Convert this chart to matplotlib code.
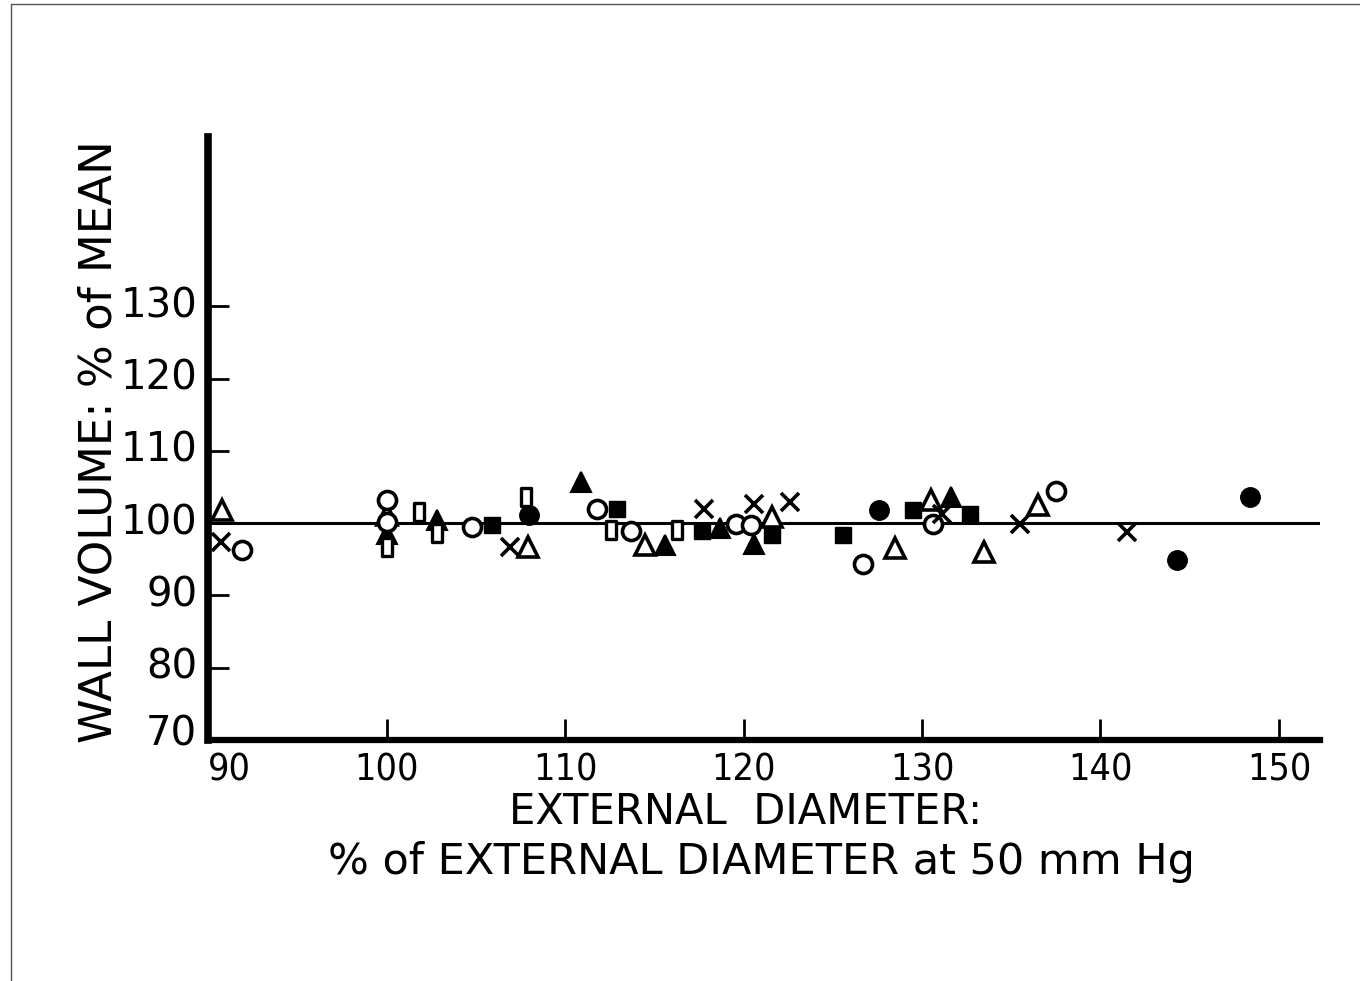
import matplotlib
matplotlib.use("Agg")
import matplotlib.pyplot as plt
from matplotlib.path import Path
from matplotlib.lines import Line2D

# ---- data ----
tri_open_x = [90.8, 100.0, 107.9, 114.5, 121.6, 128.5, 130.5, 133.5, 136.5]
tri_open_y = [101.8, 101.1, 96.7, 97.0, 100.8, 96.5, 103.2, 96.0, 102.5]

tri_fill_x = [100.0, 102.8, 110.9, 115.6, 118.7, 120.6, 131.6]
tri_fill_y = [98.5, 100.4, 105.7, 97.0, 99.3, 97.1, 103.6]

circ_open_x = [91.9, 100.0, 100.0, 104.8, 111.8, 113.7, 119.6, 120.4, 126.7, 130.6, 137.5]
circ_open_y = [96.3, 103.2, 100.1, 99.4, 101.9, 98.9, 99.9, 99.7, 94.3, 99.9, 104.5]

circ_fill_x = [108.0, 127.6, 144.3, 148.4]
circ_fill_y = [101.1, 101.8, 94.9, 103.6]

sq_open_x = [100.0, 101.8, 102.8, 107.8, 112.6, 116.3]
sq_open_y = [96.7, 101.5, 98.6, 103.6, 99.0, 99.0]

sq_fill_x = [105.9, 112.9, 117.7, 121.6, 125.6, 129.5, 132.7]
sq_fill_y = [99.7, 101.9, 98.9, 98.3, 98.3, 101.8, 101.2]

cross_x = [90.7, 106.9, 117.8, 120.6, 122.6, 131.1, 135.5, 141.5]
cross_y = [97.4, 96.7, 101.9, 102.6, 102.9, 101.2, 99.9, 98.8]

mean_level = 100
x_ticks = [100, 110, 120, 130, 140, 150]
x_ticklabels = ["90", "100", "110", "120", "130", "140", "150"]
y_ticks = [80, 90, 110, 120, 130]
y_ticklabels = ["70", "80", "90", "100", "110", "120", "130"]

# ---- figure ----
fig = plt.figure(figsize=(13.6, 9.81), dpi=100)
ax = fig.add_axes([0.153, 0.2457, 0.8176, 0.6146])
ax.set_xlim(90, 152.3)
ax.set_ylim(70, 153.4)

for s in ["top", "right"]:
    ax.spines[s].set_visible(False)
ax.spines["left"].set_linewidth(5.5)
ax.spines["bottom"].set_linewidth(4.5)

ax.axhline(mean_level, color="black", lw=2.2, zorder=1)

tall_rect = Path([(-0.55, -1), (0.55, -1), (0.55, 1), (-0.55, 1), (-0.55, -1)],
                 [Path.MOVETO, Path.LINETO, Path.LINETO, Path.LINETO, Path.CLOSEPOLY])

kw = dict(linestyle="none", zorder=3)
ax.plot(tri_open_x, tri_open_y, marker="^", ms=15, mfc="white", mec="black", mew=2.6, **kw)
ax.plot(tri_fill_x, tri_fill_y, marker="^", ms=15, mfc="black", mec="black", mew=1.5, **kw)
ax.plot(circ_open_x, circ_open_y, marker="o", ms=13, mfc="white", mec="black", mew=2.6, **kw)
ax.plot(circ_fill_x, circ_fill_y, marker="o", ms=14, mfc="black", mec="black", **kw)
ax.plot(sq_open_x, sq_open_y, marker=tall_rect, ms=13, mfc="white", mec="black", mew=2.4, **kw)
ax.plot(sq_fill_x, sq_fill_y, marker="s", ms=12, mfc="black", mec="black", **kw)
ax.plot(cross_x, cross_y, marker="x", ms=13, mec="black", mew=2.6, **kw)

# ticks (inward)
ax.set_xticks(x_ticks)
ax.set_xticklabels([])
ax.set_yticks(y_ticks)
ax.set_yticklabels([])
ax.tick_params(axis="x", direction="in", length=15, width=2)
ax.tick_params(axis="y", direction="in", length=15, width=2)

# tick labels
xt_vals = [90] + x_ticks
for v, lab in zip(xt_vals, x_ticklabels):
    ha = "left" if v == 90 else "center"
    ax.text(v, 68.3, lab, ha=ha, va="top", fontsize=27, family="DejaVu Sans",
            fontstretch="condensed", clip_on=False)

yt_vals = [70, 80, 90, 100, 110, 120, 130]
for v, lab in zip(yt_vals, y_ticklabels):
    ax.text(89.4, v + (0.8 if v == 70 else 0), lab, ha="right", va="center",
            fontsize=29, family="DejaVu Sans", clip_on=False)

fig.text(0.5485, 0.172, "EXTERNAL  DIAMETER:", ha="center", va="center",
         fontsize=30, family="DejaVu Sans")
fig.text(0.560, 0.121, "% of EXTERNAL DIAMETER at 50 mm Hg", ha="center", va="center",
         fontsize=31, family="DejaVu Sans")
fig.text(0.073, 0.550, "WALL VOLUME: % of MEAN", ha="center", va="center",
         rotation=90, fontsize=32.5, family="DejaVu Sans")

# scan border lines
fig.add_artist(Line2D([0.008, 0.008], [0.0, 0.995], color="#555555", lw=1, transform=fig.transFigure))
fig.add_artist(Line2D([0.008, 1.0], [0.996, 0.996], color="#555555", lw=1, transform=fig.transFigure))

fig.savefig("out.png", dpi=100)
